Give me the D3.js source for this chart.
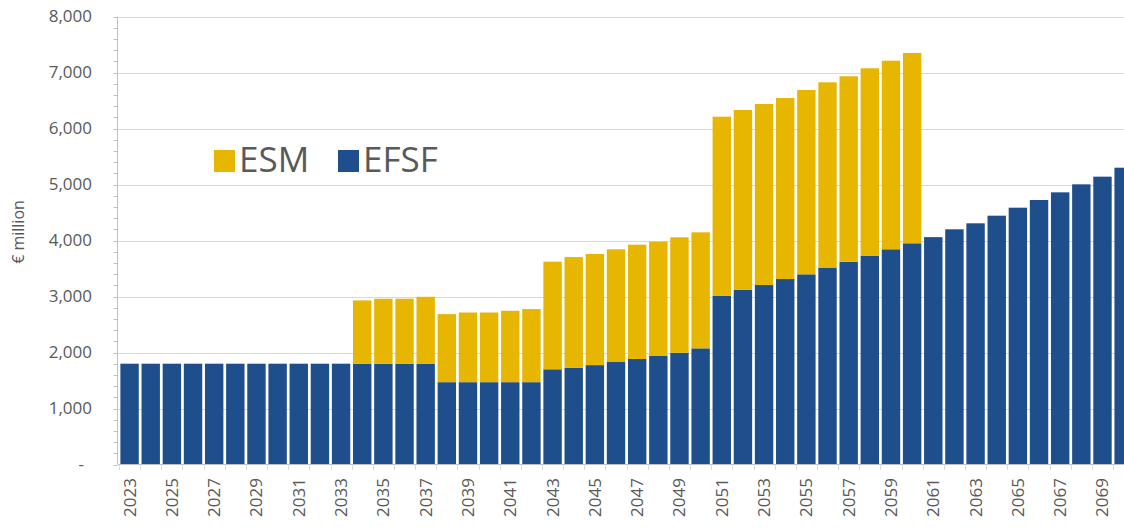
<!DOCTYPE html>
<html>
<head>
<meta charset="utf-8">
<style>
  body { margin: 0; background: #fff; font-family: "Open Sans", sans-serif; }
  svg { display: block; }
  .tick-label { fill: #595959; font-size: 17px; }
  .grid line { stroke: #d9d9d9; stroke-width: 1; }
</style>
</head>
<body>
<svg width="1124" height="527"></svg>
<script src="https://cdn.jsdelivr.net/npm/d3@7"></script>
<script>
// categories
var years = d3.range(2023, 2071);

// series values, € million
var efsf = [1800, 1800, 1800, 1800, 1800, 1800, 1800, 1800, 1800, 1800, 1800,
            1800, 1800, 1800, 1800,
            1470, 1470, 1470, 1470, 1470,
            1700, 1725, 1775, 1830, 1884, 1938, 1996, 2074,
            3015, 3121, 3205, 3312, 3396, 3509, 3621, 3729, 3843, 3950,
            4060, 4200, 4307, 4443, 4586, 4723, 4860, 5003, 5140, 5300];
var esm = [0, 0, 0, 0, 0, 0, 0, 0, 0, 0, 0,
           1130, 1160, 1160, 1195,
           1215, 1244, 1244, 1275, 1305,
           1922, 1979, 1984, 2013, 2041, 2041, 2061, 2072,
           3196, 3209, 3232, 3233, 3292, 3316, 3311, 3346, 3368, 3398,
           0, 0, 0, 0, 0, 0, 0, 0, 0, 0];

var yTicks = [0, 1000, 2000, 3000, 4000, 5000, 6000, 7000, 8000];
var seriesNames = ["ESM", "EFSF"];
var colors = { ESM: "#e6b600", EFSF: "#1f4e8c" };

var svg = d3.select("svg");

var rows = years.map(function(y, i) { return { year: y, EFSF: efsf[i], ESM: esm[i] }; });

var x = d3.scaleBand()
    .domain(years)
    .range([119, 119 + 48 * 21.15])
    .paddingInner(0.13)
    .paddingOuter(0.065);

var y = d3.scaleLinear()
    .domain([0, 8000])
    .range([464.5, 16.5]);

// gridlines
svg.append("g").attr("class", "grid")
  .selectAll("line")
  .data(yTicks.slice(1))
  .enter().append("line")
    .attr("x1", 118).attr("x2", 1124)
    .attr("y1", function(d) { return Math.round(y(d)) + 0.5; })
    .attr("y2", function(d) { return Math.round(y(d)) + 0.5; });

// stacked bars
var stack = d3.stack().keys(["EFSF", "ESM"]);
var layers = stack(rows);

svg.append("g")
  .selectAll("g")
  .data(layers)
  .enter().append("g")
    .attr("fill", function(d) { return colors[d.key]; })
  .selectAll("rect")
  .data(function(d) { return d; })
  .enter().append("rect")
    .attr("x", function(d) { return x(d.data.year); })
    .attr("width", x.bandwidth())
    .attr("y", function(d) { return y(d[1]); })
    .attr("height", function(d) { return Math.max(0, y(d[0]) - y(d[1])); });

// y axis with minor ticks
var yAxis = svg.append("g").attr("transform", "translate(117.5,0)");
yAxis.append("line")
    .attr("y1", y(8000)).attr("y2", y(0))
    .attr("stroke", "#bfbfbf");
yAxis.selectAll(".minor")
  .data(d3.range(0, 8001, 200))
  .enter().append("line")
    .attr("x1", -4).attr("x2", 0)
    .attr("y1", function(d) { return Math.round(y(d)) + 0.5; })
    .attr("y2", function(d) { return Math.round(y(d)) + 0.5; })
    .attr("stroke", "#bfbfbf");

svg.append("g")
  .selectAll("text")
  .data(yTicks)
  .enter().append("text")
    .attr("class", "tick-label")
    .attr("x", function(d) { return d === 0 ? 84 : 92; })
    .attr("y", function(d) { return y(d); })
    .attr("dy", "0.35em")
    .attr("text-anchor", "end")
    .text(function(d) { return d === 0 ? "-" : d3.format(",")(d); });

// x axis
svg.append("line")
    .attr("x1", 118).attr("x2", 1124)
    .attr("y1", 464.5).attr("y2", 464.5)
    .attr("stroke", "#bfbfbf");

svg.append("g")
  .selectAll("line")
  .data(years)
  .enter().append("line")
    .attr("x1", function(d) { return Math.round(x(d) - x.step() * x.paddingInner() / 2) + 0.5; })
    .attr("x2", function(d) { return Math.round(x(d) - x.step() * x.paddingInner() / 2) + 0.5; })
    .attr("y1", 464.5).attr("y2", 470)
    .attr("stroke", "#d9d9d9");

svg.append("g")
  .selectAll("text")
  .data(years.filter(function(d) { return d % 2 === 1; }))
  .enter().append("text")
    .attr("class", "tick-label")
    .attr("transform", function(d) {
      return "translate(" + (x(d) + x.bandwidth() / 2) + ",478) rotate(-90)";
    })
    .attr("dy", "0.35em")
    .attr("text-anchor", "end")
    .text(function(d) { return d; });

// y axis title
svg.append("text")
    .attr("transform", "translate(18,232) rotate(-90)")
    .attr("dy", "0.35em")
    .attr("text-anchor", "middle")
    .attr("fill", "#595959")
    .style("font-size", "16px")
    .text("€ million");

// legend
var legendPos = [214, 338];
var legend = svg.append("g")
  .selectAll("g")
  .data(seriesNames)
  .enter().append("g")
    .attr("transform", function(d, i) { return "translate(" + legendPos[i] + ",150)"; });
legend.append("rect")
    .attr("width", 21).attr("height", 22)
    .attr("fill", function(d) { return colors[d]; });
legend.append("text")
    .attr("x", 25).attr("y", 22)
    .attr("fill", "#595959")
    .style("font-size", "35px")
    .text(function(d) { return d; });
</script>
</body>
</html>
